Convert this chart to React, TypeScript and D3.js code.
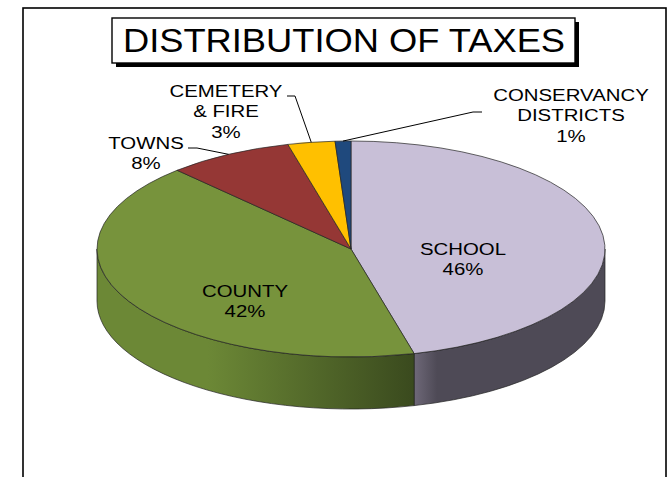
import * as React from 'react';
import * as d3 from 'd3';

const categories = ['SCHOOL', 'COUNTY', 'TOWNS', 'CEMETERY & FIRE', 'CONSERVANCY DISTRICTS'];
const shares = [46, 42, 8, 3, 1];
const labelLines = [['SCHOOL'], ['COUNTY'], ['TOWNS'], ['CEMETERY', '& FIRE'], ['CONSERVANCY', 'DISTRICTS']];

const topColors = ['#C8BFD7', '#77933C', '#953735', '#FFC000', '#1F497D'];
const sideFrom = ['#6E6878', '#6C8836', '#7A2C2A', '#CC9A00', '#173A64'];
const sideTo = ['#4E4A56', '#3A4A1E', '#5A2020', '#A07800', '#10294A'];

// label placement (text centre x, first baseline y) and leader elbow
const labelLayout = [
  {x: 463, y: 255, elbow: null},
  {x: 245, y: 297, elbow: null},
  {x: 146, y: 149, elbow: [[188, 148], [197, 148]]},
  {x: 226, y: 97, elbow: [[287, 96], [295, 96]]},
  {x: 571, y: 101, elbow: [[482, 112], [473, 112]]}
];

const W = 670;
const H = 477;
const cx = 351;
const cy = 249;
const rx = 254;
const ry = 108;
const depth = 52;
const font = '"Liberation Sans", Arial, sans-serif';

const pt = (a: number, dy = 0): [number, number] => [cx + rx * Math.sin(a), cy - ry * Math.cos(a) + dy];

export default function App() {
  const pie = d3.pie<number>().sort(null).value(d => d);
  const arcs = pie(shares);
  const arc = d3.arc<d3.PieArcDatum<number>>().innerRadius(0).outerRadius(rx);

  // front wall pieces: the part of each slice between 90° and 270°
  const walls = arcs
    .map((a, i) => {
      const a0 = Math.max(a.startAngle, Math.PI / 2);
      const a1 = Math.min(a.endAngle, (3 * Math.PI) / 2);
      if (a1 <= a0) return null;
      const [x0, y0] = pt(a0);
      const [x1, y1] = pt(a1);
      const d =
        `M${x0},${y0} A${rx},${ry} 0 0 1 ${x1},${y1} L${x1},${y1 + depth} ` +
        `A${rx},${ry} 0 0 0 ${x0},${y0 + depth} Z`;
      return {i, d, xl: Math.min(x0, x1), xr: Math.max(x0, x1)};
    })
    .filter(Boolean) as {i: number; d: string; xl: number; xr: number}[];

  return (
    <svg width={W} height={H} style={{position: 'absolute', left: 0, top: 0, background: '#fff'}}>
      <defs>
        {walls.map(w => (
          <linearGradient key={w.i} id={`wall${w.i}`} gradientUnits="userSpaceOnUse" x1={w.xl} x2={w.xr} y1={0} y2={0}>
            <stop offset="0%" stopColor={sideFrom[w.i]} />
            <stop offset={w.i === 0 ? '12%' : '35%'} stopColor={w.i === 0 ? sideTo[w.i] : sideFrom[w.i]} />
            <stop offset="100%" stopColor={sideTo[w.i]} />
          </linearGradient>
        ))}
      </defs>

      <rect x={23} y={8} width={643} height={480} fill="none" stroke="#000" strokeWidth={1.6} />

      <rect x={116} y={22} width={463} height={45} fill="#000" />
      <rect x={112} y={18} width={463} height={45} fill="#fff" stroke="#000" strokeWidth={1.4} />
      <text
        transform={`translate(344,52) scale(1.1,1)`}
        textAnchor="middle"
        fontFamily={font}
        fontSize={33}
        fill="#000"
      >
        DISTRIBUTION OF TAXES
      </text>

      {walls.map(w => (
        <path key={w.i} d={w.d} fill={`url(#wall${w.i})`} stroke="#222" strokeWidth={0.7} />
      ))}

      <g transform={`translate(${cx},${cy}) scale(1,${ry / rx})`}>
        {arcs.map((a, i) => (
          <path
            key={i}
            d={arc(a) as string}
            fill={topColors[i]}
            stroke="#222"
            strokeWidth={0.7}
            vectorEffect="non-scaling-stroke"
          />
        ))}
      </g>

      {arcs.map((a, i) => {
        const L = labelLayout[i];
        if (!L.elbow) return null;
        const mid = (a.startAngle + a.endAngle) / 2;
        const pts = [...L.elbow, pt(mid)];
        return (
          <path
            key={`ld${i}`}
            d={d3.line()(pts as [number, number][]) as string}
            fill="none"
            stroke="#000"
            strokeWidth={1}
          />
        );
      })}

      {arcs.map((a, i) => {
        const L = labelLayout[i];
        const lines = [...labelLines[i], `${shares[i]}%`];
        return (
          <text
            key={`lb${i}`}
            transform={`translate(${L.x},${L.y}) scale(1.2,1)`}
            textAnchor="middle"
            fontFamily={font}
            fontSize={17}
            fill="#000"
          >
            {lines.map((t, k) => (
              <tspan key={k} x={0} y={k * 20.5}>
                {t}
              </tspan>
            ))}
          </text>
        );
      })}
    </svg>
  );
}
